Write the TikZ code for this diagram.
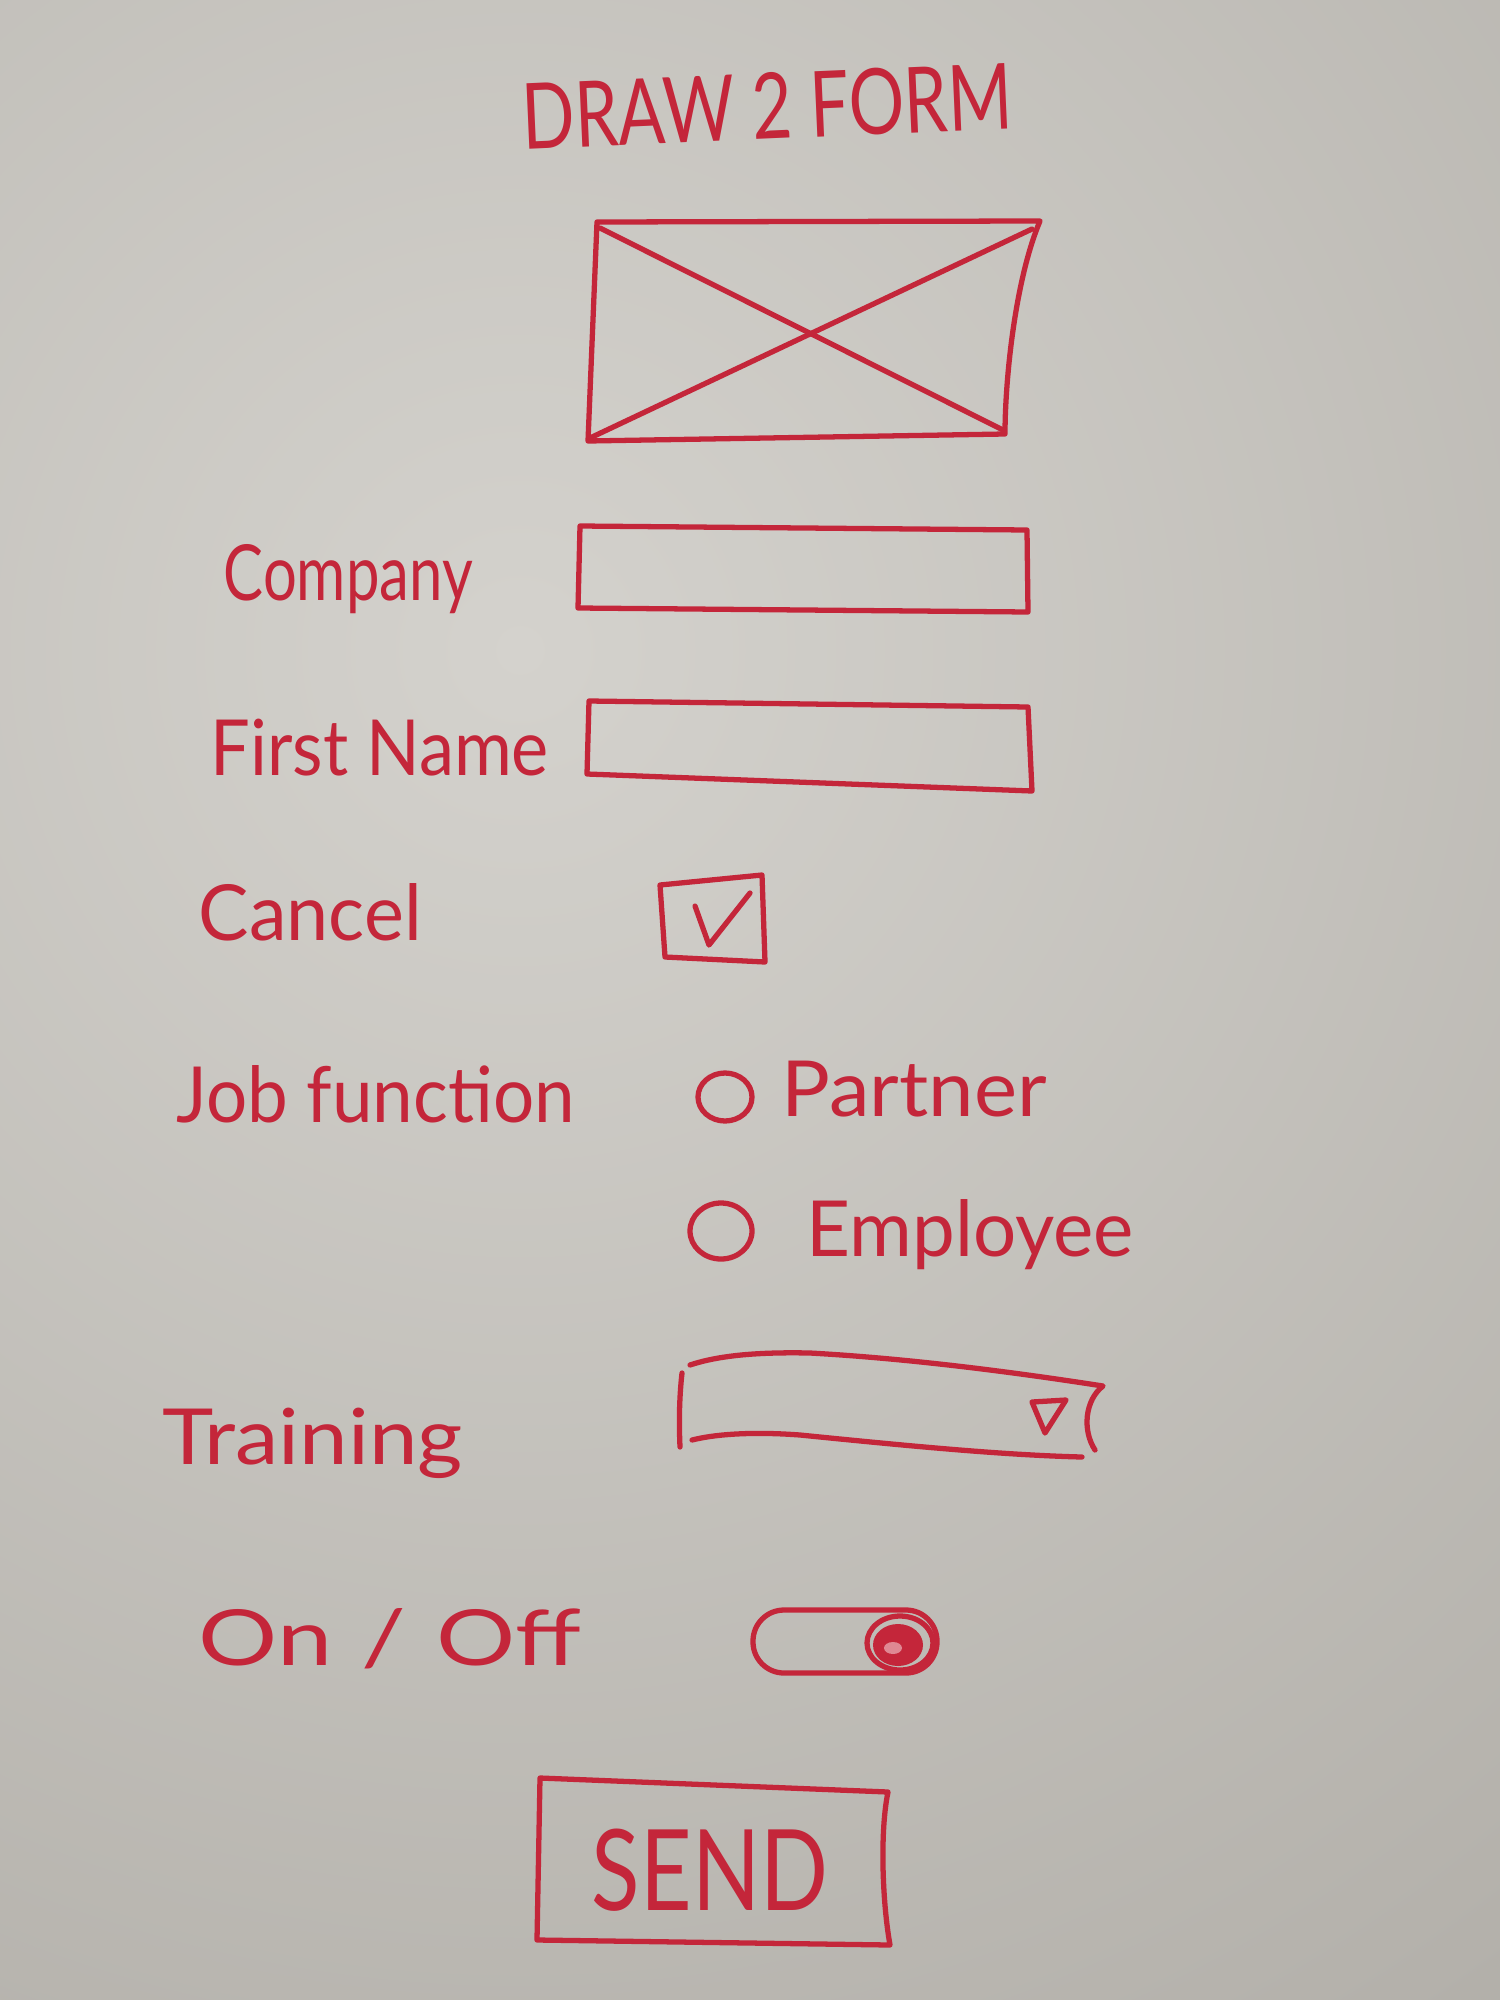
\documentclass[tikz,border=0pt]{standalone}
\usepackage{fontspec}
\setmainfont{Lato}
\usepackage{graphicx}

\definecolor{inkred}{RGB}{196,38,58}
\definecolor{boardlight}{RGB}{212,210,205}
\definecolor{boarddark}{RGB}{178,175,169}

% stretch a text to a given width, keeping its height
\newcommand\fitto[2]{\resizebox{#1}{\height}{#2}}

\tikzset{
  pen/.style={draw=inkred, line width=1.5pt, line cap=round, line join=round},
  handtext/.style={text=inkred, anchor=base west, inner sep=0pt,
    font=\fontsize{22}{26}\selectfont},
}

\begin{document}
\begin{tikzpicture}[x=0.01cm,y=-0.01cm]
  % whiteboard, brightest a little left of the middle
  \useasboundingbox (0,0) rectangle (1500,2000);
  \begin{scope}
    \clip (0,0) rectangle (1500,2000);
    \shade[inner color=boardlight, outer color=boarddark]
      (520,650) circle [radius=1700];
  \end{scope}

  % heading
  \node[handtext, font=\fontsize{26}{30}\selectfont, rotate=2.5] (title) at (523,150)
    {\fitto{4.9cm}{DRAW 2 FORM}};

  % image placeholder
  \draw[pen] (597,222) -- (1040,221)
    .. controls (1015,280) and (1005,380) .. (1005,434)
    -- (588,441) -- cycle;
  \draw[pen] (600,228) -- (1003,430);
  \draw[pen] (1032,229) -- (590,438);

  % text fields
  \node[handtext] (company) at (223,600) {\fitto{2.49cm}{Company}};
  \draw[pen] (580,526) -- (1027,530) -- (1028,612) -- (578,608) -- cycle;

  \node[handtext] (firstname) at (210,775) {\fitto{3.38cm}{First Name}};
  \draw[pen] (589,701) -- (1028,707) -- (1032,791) -- (587,774) -- cycle;

  % checkbox
  \node[handtext] (cancel) at (198,940) {\fitto{2.23cm}{Cancel}};
  \draw[pen] (660,885) -- (762,875) -- (765,962) -- (665,957) -- cycle;
  \draw[pen] (695,906) -- (709,945) -- (750,893);

  % radio buttons
  \node[handtext] (jobfunction) at (176,1122) {\fitto{3.98cm}{Job function}};
  \draw[pen] (725,1097) circle [x radius=27, y radius=24];
  \node[handtext] (partner) at (781,1116) {\fitto{2.65cm}{Partner}};
  \draw[pen] (721,1231) circle [x radius=31, y radius=28];
  \node[handtext] (employee) at (806,1256) {\fitto{3.27cm}{Employee}};

  % drop-down list
  \node[handtext] (training) at (162,1464) {\fitto{3.0cm}{Training}};
  \draw[pen] (682,1373) .. controls (679,1400) and (679,1425) .. (680,1447);
  \draw[pen] (690,1365) .. controls (720,1355) and (760,1352) .. (810,1353)
    .. controls (900,1358) and (1000,1370) .. (1103,1386)
    .. controls (1085,1400) and (1082,1430) .. (1095,1450);
  \draw[pen] (692,1440) .. controls (720,1433) and (760,1432) .. (800,1435)
    .. controls (900,1445) and (1000,1455) .. (1082,1457);
  \draw[pen] (1032,1402) -- (1066,1400) -- (1045,1433) -- cycle;

  % switch
  \node[handtext] (onoff) at (198,1665)
    {\fitto{3.82cm}{On\hspace{0.3em}/\hspace{0.3em}Off}};
  \draw[pen, rounded corners=0.31cm] (753,1610) rectangle (937,1673);
  \draw[pen] (900,1643) circle [x radius=33, y radius=27];
  \fill[inkred] (898,1645) circle [x radius=25, y radius=21];
  \fill[inkred!55!white] (893,1648) circle [x radius=9, y radius=6];

  % submit button
  \draw[pen] (540,1778) -- (888,1792)
    .. controls (880,1830) and (882,1900) .. (890,1945)
    -- (537,1940) -- cycle;
  \node[handtext, anchor=center, font=\fontsize{32}{36}\selectfont] (send) at (710,1870)
    {\fitto{2.36cm}{SEND}};
\end{tikzpicture}
\end{document}
